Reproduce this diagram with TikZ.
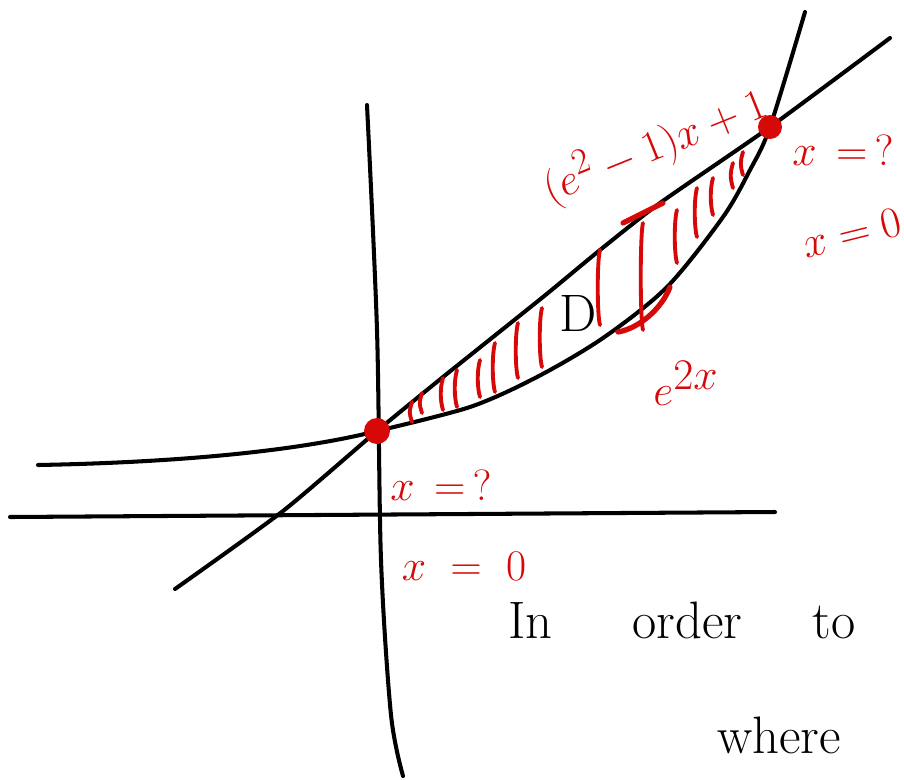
\documentclass[tikz,border=0pt]{standalone}
\usepackage{amsmath}
\usepackage{amssymb}
\usepackage{tikz}

\definecolor{ink}{RGB}{214,8,8}

\tikzset{
  pen/.style={line width=2.3pt,line cap=round,line join=round},
  hatchpen/.style={line width=2.2pt,line cap=round,ink},
  lbl/.style={ink,inner sep=0pt,font=\fontsize{30}{32}\selectfont},
  note/.style={inner sep=0pt,font=\fontsize{30}{32}\selectfont}
}

\begin{document}
\begin{tikzpicture}[x=0.02cm,y=-0.02cm]
\useasboundingbox (0,0) rectangle (904,779);

\coordinate (O) at (377,431);
\coordinate (P) at (770,127);

\draw[pen] plot[smooth,tension=0.5] coordinates {(367,105) (377,330) (381,560) (391,715) (403,776)};
\draw[pen] (10,517) -- (775,512);

\draw[pen] plot[smooth,tension=0.4] coordinates {(175,589) (283,511) (O) (443,377)
  (543,297) (600,250) (660,203) (P) (890,38)};
\draw[pen] (38,465) .. controls (200,462) and (310,448) .. (O);
\draw[pen] plot[smooth,tension=0.5] coordinates {(O) (470,407) (537,377)
  (603,338) (667,287) (723,217) (750,170) (P) (805,12)};

\foreach \x/\a/\b in {412/402/422,422/393/413,443/378/410,457/370/407,480/360/397,
  495/343/392,518/323/378,542/308/367,600/250/325,643/223/330,
  677/210/263,697/188/237,713/178/215,733/163/188,743/152/175}
  \draw[hatchpen] (\x,\a) .. controls (\x-3,\a+10) and (\x-3,\b-10) .. (\x,\b);

\draw[hatchpen,line width=3pt] (623,223) -- (663,203);
\draw[hatchpen,line width=3pt] (618,332) .. controls (640,328) and (662,308) .. (670,287);

\fill[ink] (O) circle (13);
\fill[ink] (P) circle (12);

\node (line) at (655,146) [lbl,rotate=22,font=\fontsize{28}{30}\selectfont] {$(e^2-1)x+1$};
\node (xq1) at (843,150) [lbl] {$x\,=\,?$};
\node (x01) at (852,233) [lbl,rotate=14] {$x=0$};
\node (exp) at (686,383) [lbl,font=\fontsize{36}{38}\selectfont] {$e^{2x}$};
\node (D) at (578,313) [note] {D};
\node (xq2) at (441,485) [lbl] {$x\,=\,?$};
\node (x02) at (464,566) [lbl] {$x\;=\;0$};
\node (order) at (682,620) [note] {In\hspace{1.6cm}order\hspace{1.4cm}to};
\node (where) at (779,735) [note] {where};

\end{tikzpicture}
\end{document}
